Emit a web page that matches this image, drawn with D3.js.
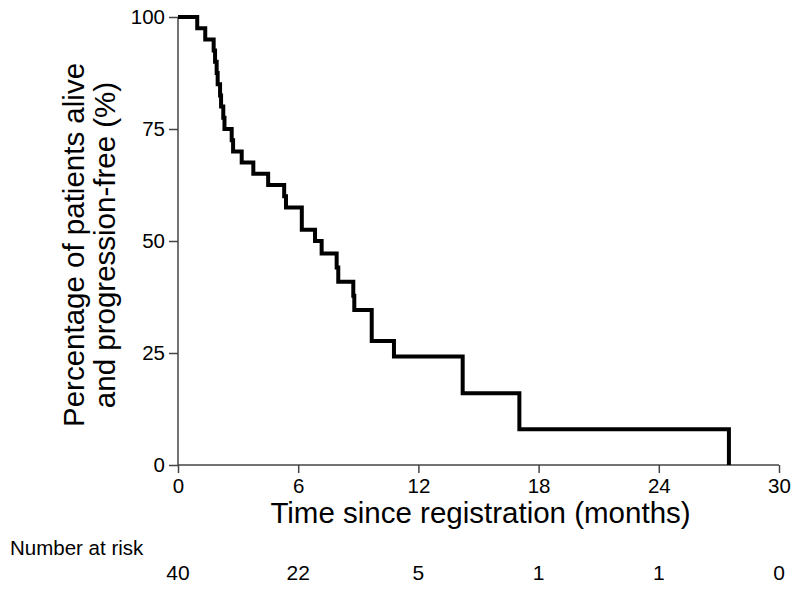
<!DOCTYPE html>
<html>
<head>
<meta charset="utf-8">
<script src="https://cdn.jsdelivr.net/npm/d3@7"></script>
<style>
  html, body { margin: 0; padding: 0; background: #fff; }
  svg { display: block; font-family: "Liberation Sans", Arial, sans-serif; }
</style>
</head>
<body>
<svg id="chart" width="800" height="593"></svg>
<script>
// Kaplan-Meier step data (months, % alive and progression-free)
const times = [0, 0.96, 1.36, 1.78, 1.85, 1.93, 1.98, 2.1, 2.15, 2.26, 2.32, 2.68, 2.75, 3.18, 3.76, 4.5, 5.3, 5.39, 6.18, 6.84, 7.17, 7.92, 8.0, 8.75, 8.8, 9.67, 10.78, 14.21, 17.04, 27.5];
const survival = [100, 97.5, 95, 92.5, 90, 87.5, 85, 82.5, 80, 77.5, 75, 72.5, 70, 67.5, 65, 62.5, 60, 57.5, 52.5, 50, 47.2, 44.1, 40.9, 37.8, 34.6, 27.7, 24.2, 16.0, 8.0, 0];
const xTicks = [0, 6, 12, 18, 24, 30];
const yTicks = [0, 25, 50, 75, 100];
const atRisk = [40, 22, 5, 1, 1, 0];

const svg = d3.select("#chart");
const x = d3.scaleLinear().domain([0, 30]).range([178, 779]);
const y = d3.scaleLinear().domain([0, 100]).range([465, 17]);
const axisColor = "#444";

// Y axis
const yAxis = svg.append("g").attr("transform", `translate(${x(0)},0)`)
  .call(d3.axisLeft(y).tickValues(yTicks).tickSize(9).tickPadding(4));
// X axis
const xAxis = svg.append("g").attr("transform", `translate(0,${y(0)})`)
  .call(d3.axisBottom(x).tickValues(xTicks).tickSize(8).tickPadding(5));

[yAxis, xAxis].forEach(g => {
  g.select(".domain").attr("stroke", axisColor).attr("stroke-width", 1.5);
  g.selectAll(".tick line").attr("stroke", axisColor).attr("stroke-width", 1.5);
  g.selectAll(".tick text").attr("fill", "#000").style("font-size", "20.5px")
    .style("font-family", "'Liberation Sans', Arial, sans-serif");
});
yAxis.select(".domain").attr("d", `M0,${y(100)}V${y(0)}`);
xAxis.select(".domain").attr("d", `M${x(0)},0H${x(30)}`);

// KM curve
const data = times.map((t, i) => [t, survival[i]]);
const line = d3.line().x(d => x(d[0])).y(d => y(d[1])).curve(d3.curveStepAfter);
svg.append("path").datum(data)
  .attr("d", line)
  .attr("fill", "none")
  .attr("stroke", "#000")
  .attr("stroke-width", 4)
  .attr("stroke-linejoin", "miter")
  .attr("stroke-linecap", "butt");

// X axis title
svg.append("text")
  .attr("x", (x(0) + x(30)) / 2 + 2)
  .attr("y", 523)
  .attr("text-anchor", "middle")
  .style("font-size", "29.5px")
  .text("Time since registration (months)");

// Y axis title (two lines)
const yTitle = svg.append("text")
  .attr("transform", "translate(84,245) rotate(-90)")
  .attr("text-anchor", "middle")
  .style("font-size", "29.5px");
yTitle.append("tspan").attr("x", 0).attr("y", 0).text("Percentage of patients alive");
yTitle.append("tspan").attr("x", 0).attr("y", 31).text("and progression-free (%)");

// Number at risk
svg.append("text")
  .attr("x", 10)
  .attr("y", 555)
  .style("font-size", "20.5px")
  .text("Number at risk");

svg.append("g").selectAll("text")
  .data(atRisk)
  .join("text")
  .attr("x", (d, i) => x(xTicks[i]))
  .attr("y", 580)
  .attr("text-anchor", "middle")
  .style("font-size", "21px")
  .text(d => d);
</script>
</body>
</html>
